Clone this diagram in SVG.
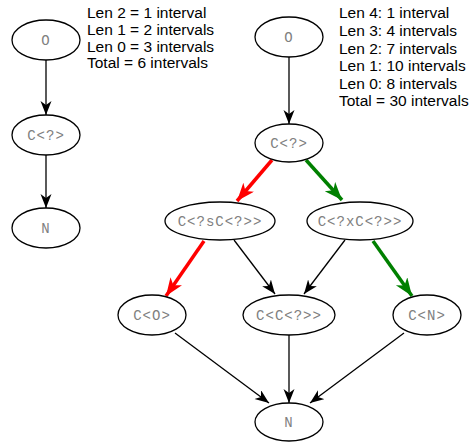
<svg xmlns="http://www.w3.org/2000/svg" width="475" height="442" viewBox="0 0 475 442">
<style>
.n ellipse{fill:#fff;stroke:#000;stroke-width:1.3}
.n text{font-family:"Liberation Mono",monospace;font-size:14px;fill:#808080;text-anchor:middle;letter-spacing:1px}
.info{font-family:"Liberation Sans",Arial,sans-serif;font-size:15.5px;fill:#000}
.e{fill:none;stroke:#000;stroke-width:1.3}
.r{fill:none;stroke:#ff0000;stroke-width:3.5}
.g{fill:none;stroke:#008000;stroke-width:3.5}
</style>
<defs>
<marker id="ak" markerUnits="userSpaceOnUse" markerWidth="16" markerHeight="12" refX="14" refY="5.5" orient="auto" viewBox="0 0 16 12">
<path d="M0,0 L14,5.5 L0,11 L4,5.5 z" fill="#000"/>
</marker>
<marker id="ar" markerUnits="userSpaceOnUse" markerWidth="20" markerHeight="16" refX="18" refY="7" orient="auto" viewBox="0 0 20 16">
<path d="M0,0 L18,7 L0,14 L5,7 z" fill="#ff0000"/>
</marker>
<marker id="ag" markerUnits="userSpaceOnUse" markerWidth="20" markerHeight="16" refX="18" refY="7" orient="auto" viewBox="0 0 20 16">
<path d="M0,0 L18,7 L0,14 L5,7 z" fill="#008000"/>
</marker>
</defs>
<g id="connectors">
<line class="e" x1="46" y1="60" x2="46" y2="115" marker-end="url(#ak)"/>
<line class="e" x1="46" y1="155" x2="46" y2="208" marker-end="url(#ak)"/>
<line class="e" x1="289" y1="57" x2="289" y2="124" marker-end="url(#ak)"/>
<line class="r" x1="272" y1="160" x2="237" y2="201" marker-end="url(#ar)"/>
<line class="g" x1="306" y1="160" x2="342" y2="200" marker-end="url(#ag)"/>
<line class="r" x1="204" y1="241" x2="166" y2="296" marker-end="url(#ar)"/>
<line class="e" x1="234" y1="240" x2="275" y2="294" marker-end="url(#ak)"/>
<line class="e" x1="345" y1="240" x2="304" y2="294" marker-end="url(#ak)"/>
<line class="g" x1="373" y1="241" x2="412" y2="296" marker-end="url(#ag)"/>
<line class="e" x1="175" y1="333" x2="269" y2="403" marker-end="url(#ak)"/>
<line class="e" x1="289" y1="335" x2="289" y2="403" marker-end="url(#ak)"/>
<line class="e" x1="404" y1="333" x2="310" y2="403" marker-end="url(#ak)"/>
</g>
<g id="nL_O" class="n"><ellipse cx="46" cy="40" rx="34" ry="20"/><text x="46" y="45">O</text></g>
<g id="nL_C" class="n"><ellipse cx="46" cy="135" rx="34" ry="20"/><text x="46" y="140">C&lt;?&gt;</text></g>
<g id="nL_N" class="n"><ellipse cx="46" cy="228" rx="34" ry="20"/><text x="46" y="233">N</text></g>
<g id="nR_O" class="n"><ellipse cx="289" cy="37" rx="34" ry="20"/><text x="289" y="42">O</text></g>
<g id="nR_C" class="n"><ellipse cx="289" cy="143" rx="34" ry="19"/><text x="289" y="148">C&lt;?&gt;</text></g>
<g id="nR_CsC" class="n"><ellipse cx="220" cy="221" rx="55" ry="19"/><text x="220" y="226">C&lt;?sC&lt;?&gt;&gt;</text></g>
<g id="nR_CxC" class="n"><ellipse cx="360" cy="221" rx="53" ry="19"/><text x="360" y="226">C&lt;?xC&lt;?&gt;&gt;</text></g>
<g id="nR_CO" class="n"><ellipse cx="152" cy="315" rx="34" ry="20"/><text x="152" y="320">C&lt;O&gt;</text></g>
<g id="nR_CC" class="n"><ellipse cx="289" cy="315" rx="46" ry="20"/><text x="289" y="320">C&lt;C&lt;?&gt;&gt;</text></g>
<g id="nR_CN" class="n"><ellipse cx="427" cy="315" rx="34" ry="20"/><text x="427" y="320">C&lt;N&gt;</text></g>
<g id="nR_N" class="n"><ellipse cx="289" cy="422" rx="34" ry="19"/><text x="289" y="427">N</text></g>
<g id="infoL">
<text class="info" x="87" y="18">Len 2 = 1 interval</text>
<text class="info" x="87" y="35">Len 1 = 2 intervals</text>
<text class="info" x="87" y="51.7">Len 0 = 3 intervals</text>
<text class="info" x="87" y="68.3">Total = 6 intervals</text>
</g>
<g id="infoR">
<text class="info" x="339" y="18.3">Len 4: 1 interval</text>
<text class="info" x="339" y="36">Len 3: 4 intervals</text>
<text class="info" x="339" y="53.6">Len 2: 7 intervals</text>
<text class="info" x="339" y="71.2">Len 1: 10 intervals</text>
<text class="info" x="339" y="88.8">Len 0: 8 intervals</text>
<text class="info" x="339" y="106.4">Total = 30 intervals</text>
</g>
</svg>
